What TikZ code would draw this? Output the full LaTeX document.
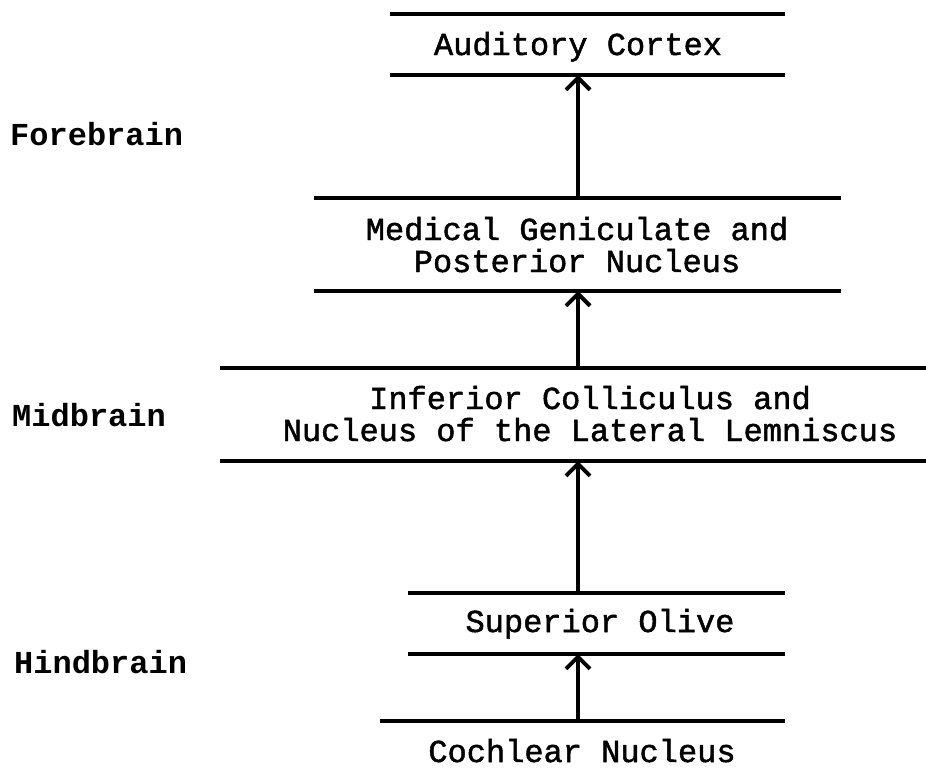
\documentclass[tikz,border=0pt]{standalone}
\usepackage{fontspec}
\setmainfont{Liberation Mono}
\newfontfamily\stagefont[FakeBold=1.5]{Liberation Mono}
\usetikzlibrary{arrows.meta}
\tikzstyle{line} = [draw, line width=3.2pt, -{Straight Barb[length=12pt,width=24pt,line width=4pt]}]
\tikzstyle{level} = [draw, line width=3.2pt]

\begin{document}
\begin{tikzpicture}
  [x=1pt,y=-1pt,every node/.style={inner sep=0pt,align=center,font=\stagefont\fontsize{32}{32}\selectfont}]
  \useasboundingbox (0,0) rectangle (926,782);

  % brain regions on the left
  \node (fore) [anchor=base west,font=\fontsize{32}{32}\selectfont\bfseries] at (10,145) {Forebrain};
  \node (mid)  [anchor=base west,font=\fontsize{32}{32}\selectfont\bfseries] at (12,426) {Midbrain};
  \node (hind) [anchor=base west,font=\fontsize{32}{32}\selectfont\bfseries] at (14,673) {Hindbrain};

  % auditory cortex
  \node (ac) [anchor=base] at (578,55) {Auditory Cortex};
  \path [level] (390,14) -- (785,14);
  \path [level] (390,75) -- (785,75);
  \coordinate (ac_in) at (578,75);

  % medial geniculate
  \node (mg) [anchor=base] at (577,272) {Medical Geniculate and\\Posterior Nucleus};
  \path [level] (314,198) -- (841,198);
  \path [level] (314,291) -- (841,291);
  \coordinate (mg_out) at (578,198);
  \coordinate (mg_in) at (578,291);

  % inferior colliculus
  \node (ic) [anchor=base] at (590,441) {Inferior Colliculus and\\Nucleus of the Lateral Lemniscus};
  \path [level] (220,368) -- (926,368);
  \path [level] (220,461) -- (926,461);
  \coordinate (ic_out) at (578,368);
  \coordinate (ic_in) at (578,461);

  % superior olive
  \node (so) [anchor=base] at (600,632) {Superior Olive};
  \path [level] (408,593) -- (785,593);
  \path [level] (408,654) -- (785,654);
  \coordinate (so_out) at (578,593);
  \coordinate (so_in) at (578,654);

  % cochlear nucleus
  \node (cn) [anchor=base] at (582,762) {Cochlear Nucleus};
  \path [level] (380,721) -- (785,721);
  \coordinate (cn_out) at (578,721);

  \path [line] (mg_out) -- (ac_in);
  \path [line] (ic_out) -- (mg_in);
  \path [line] (so_out) -- (ic_in);
  \path [line] (cn_out) -- (so_in);

\end{tikzpicture}
\end{document}
